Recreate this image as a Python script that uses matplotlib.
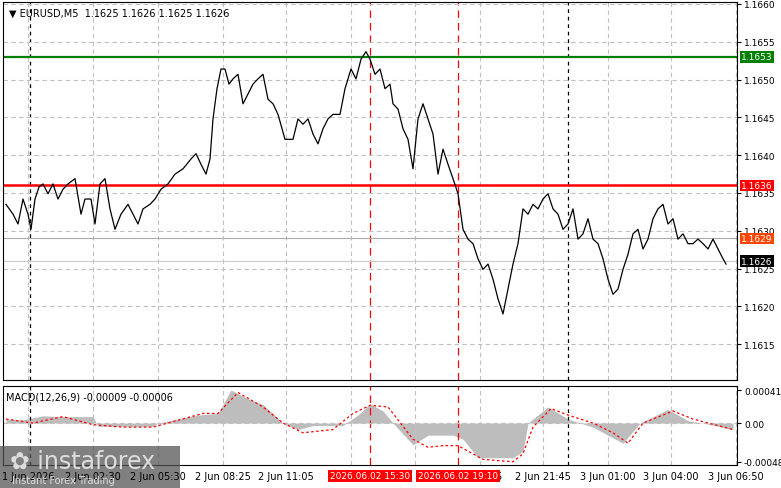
import matplotlib.pyplot as plt
from matplotlib.patches import Rectangle

W, H = 781, 489

# price trace: x in chart pixels, price values
px = [3, 10, 15, 20, 25, 28, 32, 36, 40, 45, 50, 55, 60, 65, 72, 78, 82, 88, 92, 97, 102, 107, 112, 118,
      125, 130, 135, 140, 147, 152, 158, 165, 172, 180, 188, 193, 198, 203, 207, 210, 214, 218, 222, 226,
      230, 235, 240, 245, 250, 255, 260, 265, 270, 275, 282, 290, 295, 300, 305, 310, 315, 320, 325, 330,
      337, 342, 348, 353, 358, 363, 367, 372, 377, 382, 387, 390, 395, 400, 405, 410, 415, 420, 425, 430,
      435, 440, 445, 450, 455, 460, 465, 470, 475, 480, 485, 490, 495, 500, 505, 510, 515, 520, 525, 530,
      535, 540, 545, 550, 555, 560, 565, 570, 575, 580, 585, 590, 595, 600, 605, 610, 615, 620, 625, 630,
      635, 640, 645, 650, 655, 660, 665, 670, 675, 680, 685, 690, 695, 700, 705, 710, 715, 720, 723]
py = [205, 215, 225, 200, 215, 230, 200, 188, 185, 195, 185, 200, 190, 185, 180, 215, 200, 200, 225, 185,
      180, 210, 230, 215, 205, 215, 225, 210, 205, 200, 190, 185, 175, 170, 160, 155, 165, 175, 160, 120,
      90, 70, 70, 85, 80, 75, 105, 95, 85, 80, 75, 100, 105, 115, 140, 140, 120, 125, 120, 135, 145, 130,
      120, 115, 115, 90, 70, 80, 60, 53, 60, 75, 70, 90, 85, 105, 110, 130, 140, 170, 120, 105, 120, 135,
      175, 150, 165, 180, 195, 230, 240, 245, 260, 270, 265, 280, 300, 315, 290, 265, 245, 210, 215, 205,
      210, 200, 195, 210, 215, 230, 225, 210, 240, 235, 220, 240, 245, 260, 280, 295, 290, 270, 255, 235,
      230, 250, 240, 220, 210, 205, 225, 220, 240, 235, 245, 245, 240, 245, 250, 240, 250, 260, 265]
price = [round(1.1660 - (y - 5) / 75.6 * 0.001, 5) for y in py]

# MACD histogram and signal
mx = [3, 20, 40, 60, 90, 95, 120, 150, 155, 195, 215, 228, 245, 260, 280, 295, 310, 340, 355, 367, 380,
      390, 410, 425, 450, 460, 475, 510, 520, 525, 545, 565, 590, 620, 637, 665, 685, 700, 730]
hist = [0.00005, 0.00004, 0.00009, 0.00008, 0.00008, -0.00004, -0.00004, -0.00004, 0.0, 0.0001,
        0.00012, 0.00041, 0.0003, 0.00023, 0.0, -0.00008, -0.00003, -0.00003, 0.0001, 0.00024, 0.00015,
        0.0, -0.00027, -0.00015, -0.00015, -0.0002, -0.00043, -0.00043, -0.00035, 0.0, 0.0002, 0.00005,
        -0.00005, -0.00025, 0.0, 0.00017, 0.00003, 0.0, -0.00008]
sx = [3, 30, 60, 90, 120, 150, 200, 215, 235, 260, 280, 300, 330, 350, 367, 385, 410, 425, 440, 455,
      480, 510, 520, 530, 548, 565, 590, 610, 625, 640, 670, 690, 730]
sig = [0.00005, 0.0, 0.00008, -0.00002, -0.00005, -0.00005, 0.00012, 0.00012, 0.00038, 0.0002, 0.0,
       -0.00012, -0.00008, 0.00012, 0.00022, 0.0002, -0.0002, -0.0003, -0.00028, -0.00028, -0.00045,
       -0.00048, -0.00038, -0.00005, 0.00018, 0.0001, 0.0, -0.00012, -0.00025, 0.0, 0.00015, 0.00005,
       -0.00008]

tick_x = [25, 90, 155, 220, 283, 348, 412, 477, 540, 605, 668, 733]
tick_lab = ["1 Jun 2026", "2 Jun 02:30", "2 Jun 05:30", "2 Jun 08:25", "2 Jun 11:05", "",
            "", "5", "2 Jun 21:45", "3 Jun 01:00", "3 Jun 04:00", "3 Jun 06:50"]
price_ticks = [1.1615, 1.1620, 1.1625, 1.1630, 1.1635, 1.1640, 1.1645, 1.1650, 1.1655, 1.1660]

fig = plt.figure(figsize=(W / 100, H / 100), dpi=100)
ax = fig.add_axes([3 / W, (H - 381) / H, 734 / W, 378 / H])
ax2 = fig.add_axes([3 / W, (H - 466) / H, 734 / W, 79 / H])

for a in (ax, ax2):
    a.set_xlim(0, 734)
    for x in tick_x:
        a.axvline(x, color="#c0c0c0", ls=(0, (4, 3)), lw=0.8)
    a.axvline(27, color="black", ls=(0, (3, 3)), lw=0.9)
    a.axvline(565, color="black", ls=(0, (3, 3)), lw=0.9)
    a.axvline(367, color="red", ls=(0, (6, 4)), lw=0.9)
    a.axvline(455, color="red", ls=(0, (6, 4)), lw=0.9)
    a.set_xticks([])
    a.yaxis.tick_right()
    a.tick_params(axis="y", labelsize=6.5, length=3, pad=2)

# main price panel
ylo = 1.1660 - (381 - 5) / 75.6 * 0.001
yhi = 1.1660 + 2 / 75.6 * 0.001
ax.set_ylim(ylo, yhi)
ax.set_yticks(price_ticks)
ax.set_yticklabels([f"{v:.4f}" for v in price_ticks])
for v in price_ticks:
    ax.axhline(v, color="#c0c0c0", ls=(0, (4, 3)), lw=0.8)
ax.axhline(1.1653, color="green", lw=1.6)
ax.axhline(1.1636, color="red", lw=1.8)
ax.axhline(1.1629, color="#aaaaaa", lw=0.8)
ax.axhline(1.1626, color="#cccccc", lw=0.8)
ax.plot(px, price, color="black", lw=0.9)
for v, bg, fg in [(1.1653, "green", "white"), (1.1636, "red", "white"),
                  (1.1629, "#ff4500", "white"), (1.1626, "black", "white")]:
    ax.text(1.006, v, f"{v:.4f}", transform=ax.get_yaxis_transform(), fontsize=6.5, color=fg,
            va="center", ha="left", bbox=dict(boxstyle="square,pad=0.15", fc=bg, ec="none"))
ax.text(0.008, 0.985, "▼ EURUSD,M5  1.1625 1.1626 1.1625 1.1626", transform=ax.transAxes,
        fontsize=7, va="top")

# MACD panel
ax2.set_ylim(-0.00052, 0.00046)
ax2.set_yticks([-0.00048, 0.0, 0.00041])
ax2.set_yticklabels(["-0.00048", "0.00", "0.00041"])
ax2.axhline(0, color="#c0c0c0", ls=(0, (4, 3)), lw=0.8)
ax2.fill_between(mx, hist, 0, color="#bdbdbd", lw=0)
ax2.plot(sx, sig, color="red", ls=(0, (2, 2)), lw=0.9)
ax2.text(0.004, 0.93, "MACD(12,26,9) -0.00009 -0.00006", transform=ax2.transAxes, fontsize=7, va="top")

# time axis labels
for x, lab in zip(tick_x, tick_lab):
    if lab == "5":
        fig.text((3 + x + 18) / W, (H - 477) / H, lab, fontsize=7, ha="center", va="center")
    elif lab:
        fig.text((3 + x) / W, (H - 477) / H, lab, fontsize=7, ha="center", va="center")
for x, lab in [(367, "2026.06.02 15:30"), (455, "2026.06.02 19:10")]:
    fig.text((3 + x) / W, (H - 477) / H, lab, fontsize=6.5, ha="center", va="center", color="white",
             bbox=dict(boxstyle="square,pad=0.2", fc="red", ec="none"))

# watermark
fig.patches.append(Rectangle((0, 0), 180 / W, 42 / H, transform=fig.transFigure,
                             fc="#555555", alpha=0.75, ec="none"))
fig.text(10 / W, 27 / H, "✿ instaforex", fontsize=17, color="#dddddd", va="center")
fig.text(12 / W, 8 / H, "Instant Forex Trading", fontsize=7, color="#dddddd", va="center")

fig.savefig("out.png", dpi=100)
